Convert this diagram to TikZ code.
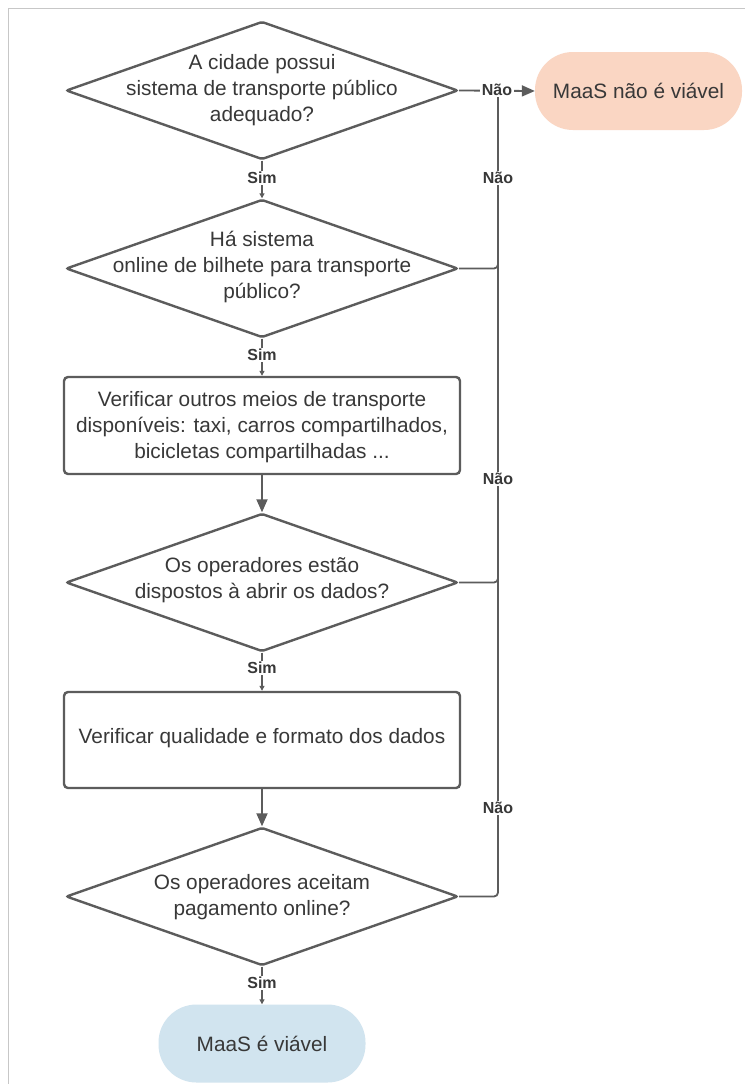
\documentclass[tikz,border=0pt]{standalone}
\usepackage{fontspec}
\setmainfont{Liberation Sans}
\usetikzlibrary{shapes.geometric,arrows.meta}
\definecolor{ln}{HTML}{5C5C5C}
\definecolor{tx}{HTML}{383838}
\definecolor{peach}{HTML}{FAD6C3}
\definecolor{lblue}{HTML}{D1E4EF}
\tikzset{
  dia/.style={diamond,draw=ln,line width=2.4pt,minimum width=392pt,minimum height=138pt,inner sep=0pt,rounded corners=2pt},
  txt/.style={align=center,text=tx,font=\fontsize{20.8}{26}\selectfont,inner sep=0pt},
  procbox/.style={rectangle,draw=ln,line width=2.4pt,minimum width=396pt,rounded corners=4pt,inner sep=0pt},
  term/.style={rectangle,rounded corners=38pt,minimum width=207pt,minimum height=78pt,inner sep=0pt,text=tx,font=\fontsize{20.8}{26}\selectfont},
  conn/.style={draw=ln,line width=1.8pt},
  small/.style={-{Triangle[width=5pt,length=5pt]}},
  big/.style={-{Triangle[width=11pt,length=13pt]}},
  lbl/.style={fill=white,inner sep=1.5pt,text=tx,font=\fontsize{16}{18}\selectfont\bfseries},
}
\begin{document}
\begin{tikzpicture}[x=1pt,y=-1pt]
\useasboundingbox (0,0) rectangle (745,1084);
\fill[white] (0,0) rectangle (745,1084);
\draw[black!22,line width=1pt] (8,1084) -- (8,8) -- (745,8);

% shapes
\node[dia] (d1) at (262,90.5) {};
\node[txt] (t1txt) at (262,90) {A cidade possui\\sistema de transporte público\\adequado?};
\node[dia] (d2) at (262,268.5) {};
\node[txt] (t2txt) at (262,267) {Há sistema\\online de bilhete para transporte\\público?};
\node[procbox,minimum height=97pt] (b1) at (262,425.5) {};
\node[txt] (b1txt) at (262,427.5) {Verificar outros meios de transporte\\disponíveis: taxi, carros compartilhados,\\bicicletas compartilhadas ...};
\node[dia] (d3) at (262,582.5) {};
\node[txt] (t3txt) at (262,580.5) {Os operadores estão\\dispostos à abrir os dados?};
\node[procbox,minimum height=96pt] (b2) at (262,740) {};
\node[txt] (b2txt) at (262,738) {Verificar qualidade e formato dos dados};
\node[dia] (d4) at (262,896.5) {};
\node[txt] (t4txt) at (262,897) {Os operadores aceitam\\pagamento online?};
\node[term,fill=peach] (nv) at (638.5,91) {MaaS não é viável};
\node[term,fill=lblue] (ok) at (262,1043.5) {MaaS é viável};

\coordinate (jn) at (498,90);

% connectors
\draw[conn,small] (d1.south) -- (d2.north);
\draw[conn,small] (d2.south) -- (b1.north);
\draw[conn,big] (b1.south) -- (d3.north);
\draw[conn,small] (d3.south) -- (b2.north);
\draw[conn,big] (b2.south) -- (d4.north);
\draw[conn,small] (d4.south) -- (ok.north);
\draw[conn,big] (d1.east) -- (nv.west);
\draw[conn,rounded corners=4pt] (d2.east) -| (jn);
\draw[conn,rounded corners=4pt] (d3.east) -| (jn);
\draw[conn,rounded corners=4pt] (d4.east) -| (jn);

% labels
\node[lbl] (s1) at (262,178) {Sim};
\node[lbl] (s2) at (262,355) {Sim};
\node[lbl] (s3) at (262,668) {Sim};
\node[lbl] (s4) at (262,983) {Sim};
\node[lbl] (n1) at (497,90) {Não};
\node[lbl] (n2) at (498,178) {Não};
\node[lbl] (n3) at (498,479) {Não};
\node[lbl] (n4) at (498,808) {Não};
\end{tikzpicture}
\end{document}
